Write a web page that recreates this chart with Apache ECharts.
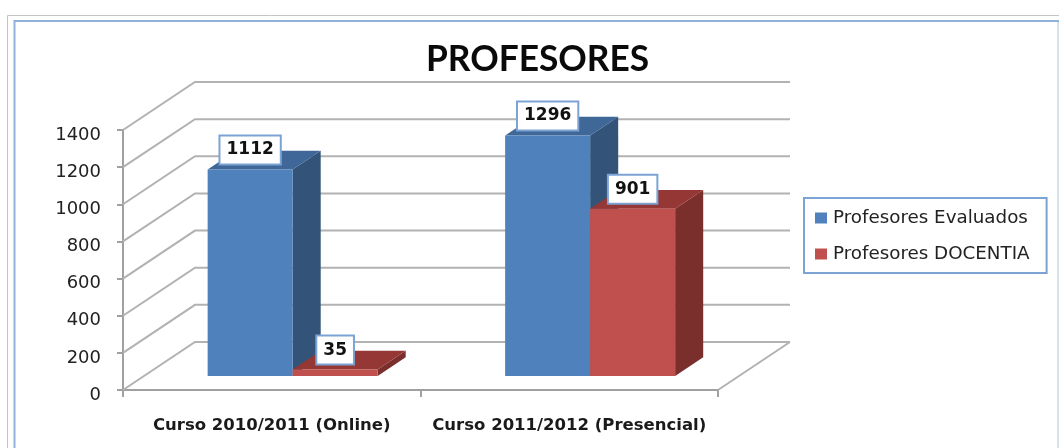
<!DOCTYPE html>
<html>
<head>
<meta charset="utf-8">
<title>PROFESORES</title>
<style>
  html, body { margin: 0; padding: 0; background: #fff; overflow: hidden; }
  #chart { width: 1059px; height: 448px; }
</style>
<script src="https://cdn.jsdelivr.net/npm/echarts@6/dist/echarts.min.js"></script>
</head>
<body>
<div id="chart"></div>
<script>
var categories = ['Curso 2010/2011 (Online)', 'Curso 2011/2012 (Presencial)'];
var evaluados = [1112, 1296];
var docentia = [35, 901];
var yTicks = [0, 200, 400, 600, 800, 1000, 1200, 1400];

// fake 3d: how far the back wall sits from the front plane
var wallDx = 72;
var wallDy = 48;
var barInset = 0.29;  // bar front plane, as part of the wall depth
var barDepth = 0.39;
var barWidthPart = 0.2857;

var chart = echarts.init(document.getElementById('chart'));

// horizontal lines on the back wall + diagonals on the side wall
function renderWall(params, api) {
  var v = api.value(1);
  var y = api.coord([0, v])[1];
  var rect = params.coordSys;
  var left = rect.x;
  var right = rect.x + rect.width;
  var lineStyle = { stroke: '#b2b2b2', lineWidth: 2, fill: null };
  var children = [{
    type: 'polyline',
    shape: { points: [[left, y], [left + wallDx, y - wallDy], [right + wallDx, y - wallDy]] },
    style: lineStyle
  }];
  if (v === 0) {
    children.push({
      type: 'line',
      shape: { x1: right, y1: y, x2: right + wallDx, y2: y - wallDy },
      style: lineStyle
    });
  }
  return { type: 'group', children: children };
}

function makeBarRenderer(slot, faceColor, sideColor, topColor) {
  return function (params, api) {
    var cat = api.value(0);
    var val = api.value(1);
    var top = api.coord([cat, val]);
    var base = api.coord([cat, 0]);
    var w = api.size([1, 0])[0] * barWidthPart;
    var x0 = top[0] + wallDx * barInset - w + slot * w;
    var x1 = x0 + w;
    var yTop = top[1] - wallDy * barInset;
    var yBase = base[1] - wallDy * barInset;
    var dx = wallDx * barDepth;
    var dy = wallDy * barDepth;
    return {
      type: 'group',
      children: [
        {
          type: 'polygon',
          shape: { points: [[x1, yTop], [x1 + dx, yTop - dy], [x1 + dx, yBase - dy], [x1, yBase]] },
          style: { fill: sideColor }
        },
        {
          type: 'polygon',
          shape: { points: [[x0, yTop], [x0 + dx, yTop - dy], [x1 + dx, yTop - dy], [x1, yTop]] },
          style: { fill: topColor }
        },
        {
          type: 'rect',
          shape: { x: x0, y: yTop, width: w, height: yBase - yTop },
          style: { fill: faceColor }
        },
        {
          type: 'text',
          z2: 50,
          style: {
            text: String(val),
            x: (x0 + x1) / 2,
            y: yTop - 6,
            align: 'center',
            verticalAlign: 'bottom',
            font: 'bold 17px "DejaVu Sans"',
            fill: '#111',
            backgroundColor: '#fff',
            borderColor: '#7ba3d4',
            borderWidth: 2,
            padding: [5, 6, 5, 6]
          }
        }
      ]
    };
  };
}

function toPairs(values) {
  return values.map(function (v, i) { return [i, v]; });
}

chart.setOption({
  animation: false,
  title: {
    text: 'PROFESORES',
    left: 426,
    top: 42,
    padding: 0,
    textStyle: { fontFamily: 'Lato', fontWeight: 'bold', fontSize: 35.3, color: '#0a0a0a' }
  },
  legend: {
    data: ['Profesores Evaluados', 'Profesores DOCENTIA'],
    orient: 'vertical',
    left: 804,
    top: 198,
    padding: [11, 17, 10, 11],
    itemWidth: 12,
    itemHeight: 11,
    itemGap: 18,
    icon: 'rect',
    selectedMode: false,
    backgroundColor: '#fff',
    borderColor: '#7ba3d4',
    borderWidth: 2,
    textStyle: { fontFamily: 'DejaVu Sans', fontSize: 18.3, color: '#222', padding: [0, 0, 0, 1] }
  },
  grid: { left: 123, top: 130, width: 595, height: 260 },
  xAxis: {
    type: 'category',
    data: categories,
    axisLine: { lineStyle: { color: '#a0a0a0', width: 2 } },
    axisTick: { show: true, interval: 0, length: 7, lineStyle: { color: '#a0a0a0', width: 2 } },
    axisLabel: { interval: 0, margin: 27, fontFamily: 'DejaVu Sans', fontWeight: 'bold', fontSize: 16.5, color: '#1a1a1a' }
  },
  yAxis: {
    type: 'value',
    min: 0,
    max: 1400,
    interval: 200,
    splitLine: { show: false },
    axisLine: { show: true, lineStyle: { color: '#a0a0a0', width: 2 } },
    axisTick: { show: true, length: 6, lineStyle: { color: '#a0a0a0', width: 2 } },
    axisLabel: {
      margin: 22,
      formatter: function (v) { return '{n|' + v + '}'; },
      rich: {
        n: { fontFamily: 'DejaVu Sans', fontSize: 18, color: '#222', padding: [10, 0, 0, 0] }
      }
    }
  },
  graphic: [
    { type: 'rect', silent: true, z: -10, shape: { x: 7.5, y: 15.5, width: 1200, height: 600 }, style: { fill: 'none', stroke: '#c4c4c4', lineWidth: 1 } },
    { type: 'rect', silent: true, z: -9, shape: { x: 14.5, y: 21, width: 1100, height: 600 }, style: { fill: '#fff', stroke: '#8fb1da', lineWidth: 2 } },
    { type: 'line', silent: true, z: -8, shape: { x1: 1058, y1: 22, x2: 1058, y2: 448 }, style: { stroke: '#d6e1ee', lineWidth: 2 } }
  ],
  series: [
    {
      type: 'custom',
      name: 'wall',
      silent: true,
      z: 1,
      renderItem: renderWall,
      encode: { x: 0, y: 1 },
      data: yTicks.map(function (v) { return [0, v]; })
    },
    {
      type: 'custom',
      name: 'Profesores Evaluados',
      z: 3,
      itemStyle: { color: '#4f81bd' },
      renderItem: makeBarRenderer(0, '#4f81bd', '#335478', '#3f6797'),
      encode: { x: 0, y: 1 },
      data: toPairs(evaluados)
    },
    {
      type: 'custom',
      name: 'Profesores DOCENTIA',
      z: 4,
      itemStyle: { color: '#c0504d' },
      renderItem: makeBarRenderer(1, '#c0504d', '#7a2f2d', '#953735'),
      encode: { x: 0, y: 1 },
      data: toPairs(docentia)
    }
  ]
});
</script>
</body>
</html>
